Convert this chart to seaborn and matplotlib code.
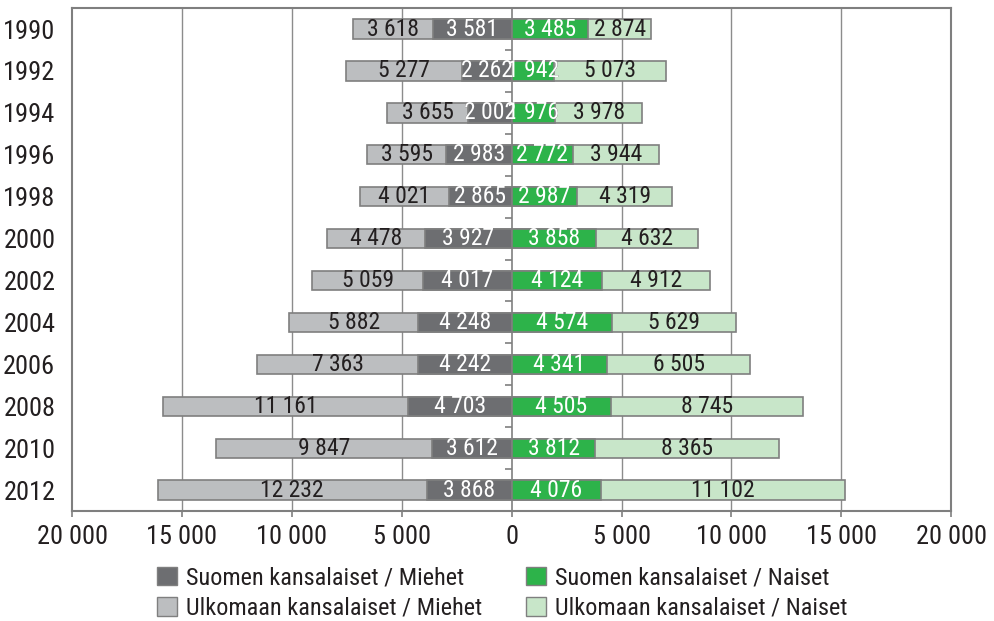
import matplotlib
matplotlib.use("Agg")
import matplotlib.pyplot as plt
from matplotlib import font_manager
import seaborn as sns
import pandas as pd
import numpy as np
from matplotlib.patches import Rectangle, Patch

years = ["1990", "1992", "1994", "1996", "1998", "2000", "2002", "2004", "2006", "2008", "2010", "2012"]
ulk_miehet = [3618, 5277, 3655, 3595, 4021, 4478, 5059, 5882, 7363, 11161, 9847, 12232]
suom_miehet = [3581, 2262, 2002, 2983, 2865, 3927, 4017, 4248, 4242, 4703, 3612, 3868]
suom_naiset = [3485, 1942, 1976, 2772, 2987, 3858, 4124, 4574, 4341, 4505, 3812, 4076]
ulk_naiset = [2874, 5073, 3978, 3944, 4319, 4632, 4912, 5629, 6505, 8745, 8365, 11102]

labels = ["Suomen kansalaiset / Miehet", "Ulkomaan kansalaiset / Miehet",
          "Suomen kansalaiset / Naiset", "Ulkomaan kansalaiset / Naiset"]
xticks = [-20000, -15000, -10000, -5000, 0, 5000, 10000, 15000, 20000]

c_dark = "#6d6e71"
c_lgray = "#bcbec0"
c_green = "#2db34a"
c_lgreen = "#c8e6c9"
edge = "#7f7f7f"
txt = "#231f20"

sns.set_theme(style="white")

names = sorted({f.name for f in font_manager.fontManager.ttflist})
narrow = [n for n in names if ("Narrow" in n or "Condensed" in n or "Cond" in n)]
pref = [n for n in narrow if "Liberation" in n] + [n for n in narrow if "Roboto" in n] + narrow
if pref:
    fam = pref[0]
    scale = 1.0
else:
    fam = "Liberation Sans" if "Liberation Sans" in names else "DejaVu Sans"
    scale = 0.84
plt.rcParams["font.family"] = [fam, "DejaVu Sans"]

fs_year = 19 * scale
fs_bar = 17 * scale
fs_leg = 17.5 * scale

df = pd.DataFrame({
    "year": years,
    "m_total": [-(a + b) for a, b in zip(ulk_miehet, suom_miehet)],
    "m_suom": [-b for b in suom_miehet],
    "n_total": [a + b for a, b in zip(suom_naiset, ulk_naiset)],
    "n_suom": suom_naiset,
})

fig = plt.figure(figsize=(9.95, 6.21), dpi=100)
ax = fig.add_axes([0.0724, 0.177, 0.8836, 0.810])

bh = 0.46
sns.barplot(data=df, y="year", x="m_total", orient="h", color=c_lgray, width=bh,
            edgecolor=edge, linewidth=1.2, saturation=1, ax=ax, zorder=1)
sns.barplot(data=df, y="year", x="n_total", orient="h", color=c_lgreen, width=bh,
            edgecolor=edge, linewidth=1.2, saturation=1, ax=ax, zorder=1)
sns.barplot(data=df, y="year", x="m_suom", orient="h", color=c_dark, width=bh,
            edgecolor=edge, linewidth=1.2, saturation=1, ax=ax, zorder=2)
sns.barplot(data=df, y="year", x="n_suom", orient="h", color=c_green, width=bh,
            edgecolor=edge, linewidth=1.2, saturation=1, ax=ax, zorder=2)

ax.set_xlim(-20000, 20000)
ax.set_ylim(len(years) - 0.5, -0.5)

def fmt(v):
    return f"{int(v):,}".replace(",", " ")

fig.canvas.draw()
renderer = fig.canvas.get_renderer()

for i in range(len(years)):
    um, sm, sn, un = ulk_miehet[i], suom_miehet[i], suom_naiset[i], ulk_naiset[i]
    ax.text(-sm - um / 2, i, fmt(um), ha="center", va="center", fontsize=fs_bar,
            color=txt, zorder=1.5)
    ax.text(sn + un / 2, i, fmt(un), ha="center", va="center", fontsize=fs_bar,
            color=txt, zorder=1.5)
    clip = Rectangle((-sm, i - bh / 2), sm + sn, bh, transform=ax.transData)
    for xc, v in ((-sm / 2, sm), (sn / 2, sn)):
        t = ax.text(xc, i, fmt(v), ha="center", va="center", fontsize=fs_bar,
                    color="white", zorder=3)
        bb = t.get_window_extent(renderer).transformed(ax.transData.inverted())
        if bb.x0 < -sm or bb.x1 > sn:
            ax.text(xc, i, fmt(v), ha="center", va="center", fontsize=fs_bar,
                    color=txt, zorder=1.5)
            t.set_clip_path(clip)

ax.set_xticks(xticks)
ax.set_xticklabels([fmt(abs(v)) for v in xticks], fontsize=fs_year, color=txt)
ax.set_yticks(range(len(years)))
ax.set_yticklabels(years, fontsize=fs_year, color=txt)
ax.set_xlabel("")
ax.set_ylabel("")

ax.set_axisbelow(True)
for v in xticks[1:-1]:
    if v != 0:
        ax.axvline(v, color="#8c8c8c", lw=1.0, zorder=0)
ax.axvline(0, color="#7f7f7f", lw=1.2, zorder=0.5)
ax.plot([0] * (len(years) - 1), np.arange(len(years) - 1) + 0.5, linestyle="none",
        marker=0, markersize=5, color="#7f7f7f", markeredgewidth=1.2, zorder=0.5)

for s in ax.spines.values():
    s.set_color("#7f7f7f")
    s.set_linewidth(1.5)
ax.tick_params(axis="x", bottom=True, length=4, width=1.2, color="#7f7f7f", pad=6)
ax.tick_params(axis="y", left=False, pad=6)

handles = [Patch(facecolor=c_dark, edgecolor=edge, label=labels[0]),
           Patch(facecolor=c_lgray, edgecolor=edge, label=labels[1]),
           Patch(facecolor=c_green, edgecolor=edge, label=labels[2]),
           Patch(facecolor=c_lgreen, edgecolor=edge, label=labels[3])]
fig.legend(handles=handles, loc="center", bbox_to_anchor=(0.505, 0.045), ncol=2,
           frameon=False, fontsize=fs_leg, handlelength=0.8, handleheight=0.8,
           handletextpad=0.4, columnspacing=1.8, labelspacing=0.3,
           labelcolor=txt)

fig.savefig("out.png", dpi=100)
